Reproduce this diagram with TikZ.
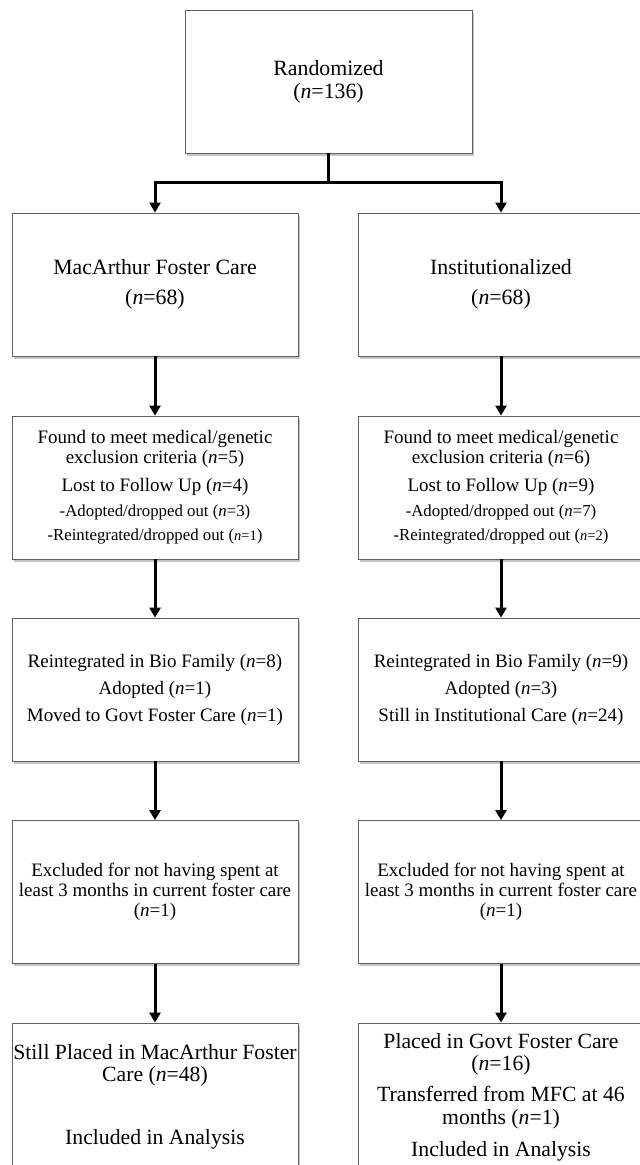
\documentclass[tikz,border=0pt]{standalone}
\usepackage{fontspec}
\setmainfont{Liberation Serif}
\usetikzlibrary{arrows.meta,shadows}
\tikzset{
  box/.style={draw=gray!75!black, line width=0.8pt, fill=white,
    minimum width=286pt, minimum height=143pt, inner sep=0pt, align=center,
    font=\fontsize{19}{20}\selectfont,
    drop shadow={shadow xshift=2pt,shadow yshift=-2.5pt,fill=gray,opacity=0.45}},
  big/.style={font=\fontsize{21.8}{23}\selectfont},
  flow/.style={line width=3pt, -{Triangle[width=11pt,length=10pt]}},
  link/.style={line width=3pt}
}
\newcommand{\nn}{\textit{n}}
\newcommand{\subsz}{\fontsize{16.8}{20}\selectfont}
\newcommand{\tinysz}{\fontsize{14.5}{20}\selectfont}
\begin{document}
\begin{tikzpicture}[x=1pt,y=-1pt]
\fill[white] (0,0) rectangle (640,1165);
\useasboundingbox (0,0) rectangle (640,1165);

\node[box, big, minimum width=287pt] (rand) at (328.5,81.5) {Randomized\\(\nn=136)};

\node[box, big] (mfc) at (155,284.5) {MacArthur Foster Care\\[7pt](\nn=68)};
\node[box, big] (inst) at (501,284.5) {Institutionalized\\[7pt](\nn=68)};

\node[box] (l3) at (155,487.5)
  {Found to meet medical/genetic\\exclusion criteria (\nn=5)\\[8pt]
   Lost to Follow Up (\nn=4)\\[5pt]
   {\subsz -Adopted/dropped out (\nn=3)}\\[4pt]
   {\subsz -Reintegrated/dropped out ({\tinysz\nn=1})}};
\node[box] (r3) at (501,487.5)
  {Found to meet medical/genetic\\exclusion criteria (\nn=6)\\[8pt]
   Lost to Follow Up (\nn=9)\\[5pt]
   {\subsz -Adopted/dropped out (\nn=7)}\\[4pt]
   {\subsz -Reintegrated/dropped out ({\tinysz\nn=2})}};

\node[box] (l4) at (155,689.5)
  {Reintegrated in Bio Family (\nn=8)\\[7pt]Adopted (\nn=1)\\[7pt]Moved to Govt Foster Care (\nn=1)};
\node[box] (r4) at (501,689.5)
  {Reintegrated in Bio Family (\nn=9)\\[7pt]Adopted (\nn=3)\\[7pt]Still in Institutional Care (\nn=24)};

\node[box] (l5) at (155,892)
  {Excluded for not having spent at\\least 3 months in current foster care\\(\nn=1)};
\node[box] (r5) at (501,892)
  {Excluded for not having spent at\\least 3 months in current foster care\\(\nn=1)};

\node[box, font=\fontsize{21.7}{22}\selectfont, minimum height=148pt] (l6) at (155,1097)
  {Still Placed in MacArthur Foster\\Care (\nn=48)\\[41pt]Included in Analysis};
\node[box, font=\fontsize{21.7}{22.5}\selectfont, minimum height=148pt] (r6) at (501,1097)
  {Placed in Govt Foster Care\\(\nn=16)\\[8.5pt]Transferred from MFC at 46\\months (\nn=1)\\[9.5pt]Included in Analysis};

\coordinate (jc) at (328.5,182);
\draw[link] (rand.south) -- (jc);
\draw[flow] (jc) -| (mfc.north);
\draw[flow] (jc) -| (inst.north);

\draw[flow] (mfc.south) -- (l3.north);
\draw[flow] (l3.south) -- (l4.north);
\draw[flow] (l4.south) -- (l5.north);
\draw[flow] (l5.south) -- (l6.north);
\draw[flow] (inst.south) -- (r3.north);
\draw[flow] (r3.south) -- (r4.north);
\draw[flow] (r4.south) -- (r5.north);
\draw[flow] (r5.south) -- (r6.north);
\end{tikzpicture}
\end{document}
